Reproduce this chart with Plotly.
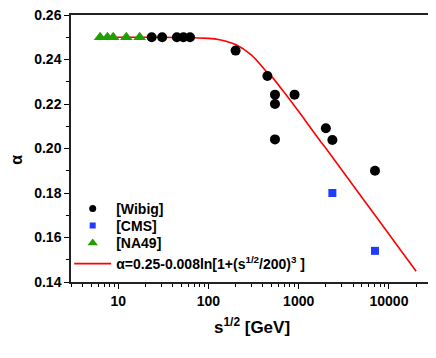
import plotly.graph_objects as go

# Wibig compilation
wibig_x = [23.5, 30.7, 44.7, 52.8, 62.5, 200, 450, 546, 546, 546, 900, 2000, 2360, 7000]
wibig_y = [0.250, 0.250, 0.250, 0.250, 0.250, 0.244, 0.2326, 0.2242, 0.2200, 0.2041, 0.2242, 0.2091, 0.2038, 0.1900]

# CMS
cms_x = [2360, 7000]
cms_y = [0.180, 0.154]

# NA49
na49_x = [6.3, 7.6, 8.8, 12.3, 17.3]
na49_y = [0.250, 0.250, 0.250, 0.250, 0.250]

# fitted curve
fit_x = [6.3, 20, 50, 100, 133, 150, 200, 300, 450, 500, 700, 1000, 1700, 2000, 5000, 10000, 20000]
fit_y = [0.2500, 0.2500, 0.2499, 0.2495, 0.2489, 0.2484, 0.2467, 0.2420, 0.2341, 0.2324, 0.2249,
         0.2166, 0.2038, 0.2001, 0.1781, 0.1615, 0.1448]

x_ticks = [10, 100, 1000, 10000]
x_tick_labels = ["10", "100", "1000", "10000"]

minor_x = [m * 10 ** e for e in range(0, 5) for m in range(2, 10) if 3 <= m * 10 ** e <= 30000]

FONT = "Liberation Sans, Arial, sans-serif"
FIT_NAME = "α=0.25-0.008ln[1+(s<sup>1/2</sup>/200)<sup>3</sup> ]"

fig = go.Figure()

# curve first so the markers sit on top of it
fig.add_trace(go.Scatter(
    x=fit_x, y=fit_y, mode="lines", line_shape="spline",
    name=FIT_NAME, legend="legend4",
    line=dict(color="red", width=1.6),
))
fig.add_trace(go.Scatter(
    x=wibig_x, y=wibig_y, mode="markers", name="[Wibig]", showlegend=False,
    marker=dict(symbol="circle", size=10, color="black"),
))
fig.add_trace(go.Scatter(
    x=cms_x, y=cms_y, mode="markers", name="[CMS]", showlegend=False,
    marker=dict(symbol="square", size=8, color="#1e3cff"),
))
fig.add_trace(go.Scatter(
    x=na49_x, y=na49_y, mode="markers", name="[NA49]", showlegend=False,
    marker=dict(symbol="triangle-up", size=11, color="#20a000"),
))

# legend entries use smaller symbols than the plot, as in the original
for name, sym, size, color, leg in [
    ("[Wibig]", "circle", 7, "black", "legend"),
    ("[CMS]", "square", 6, "#1e3cff", "legend2"),
    ("[NA49]", "triangle-up", 9, "#20a000", "legend3"),
]:
    fig.add_trace(go.Scatter(
        x=[None], y=[None], mode="markers", name=name, legend=leg,
        marker=dict(symbol=sym, size=size, color=color),
    ))


def legend_at(y):
    return dict(
        x=-0.005, y=y, xanchor="left", yanchor="middle",
        bgcolor="rgba(0,0,0,0)", font=dict(size=14, weight="bold"),
        itemwidth=37,
    )


# page body keeps an 8px margin, so the figure is 8px smaller than the window
fig.update_layout(
    width=428, height=350,
    margin=dict(l=63, r=4, t=7, b=76, autoexpand=False),
    paper_bgcolor="white", plot_bgcolor="white",
    font=dict(family=FONT, size=14, color="black", weight="bold"),
    showlegend=True,
    legend=legend_at(0.2734),
    legend2=legend_at(0.2097),
    legend3=legend_at(0.145),
    legend4=legend_at(0.0674),
    xaxis=dict(
        type="log", range=[0.477, 4.477], automargin=False,
        tickvals=x_ticks, ticktext=x_tick_labels, ticklabeloverflow="allow",
        ticks="outside", ticklen=5, tickwidth=1.3, tickcolor="black",
        minor=dict(tickvals=minor_x, ticks="outside", ticklen=3, tickcolor="black", tickwidth=1),
        showline=True, linecolor="#222", linewidth=1.5, mirror=True,
        showgrid=False, zeroline=False,
        tickfont=dict(size=14, weight="bold"),
    ),
    yaxis=dict(
        range=[0.14, 0.26], dtick=0.02, tickformat=".2f", automargin=False,
        ticklabeloverflow="allow",
        ticks="outside", ticklen=5, tickwidth=1.3, tickcolor="black",
        minor=dict(dtick=0.01, ticks="outside", ticklen=3, tickcolor="black", tickwidth=1),
        showline=True, linecolor="#222", linewidth=1.5, mirror=True,
        showgrid=False, zeroline=False,
        tickfont=dict(size=14, weight="bold"),
    ),
    annotations=[
        dict(text="s<sup>1/2</sup> [GeV]", xref="paper", yref="paper", x=0.5, y=-0.165,
             xanchor="center", yanchor="middle", showarrow=False,
             font=dict(size=17, weight="bold")),
        dict(text="α", xref="paper", yref="paper", x=-0.15, y=0.457,
             xanchor="center", yanchor="middle", showarrow=False, textangle=-90,
             font=dict(size=16, weight="bold")),
    ],
)

fig.write_html("out.html")
